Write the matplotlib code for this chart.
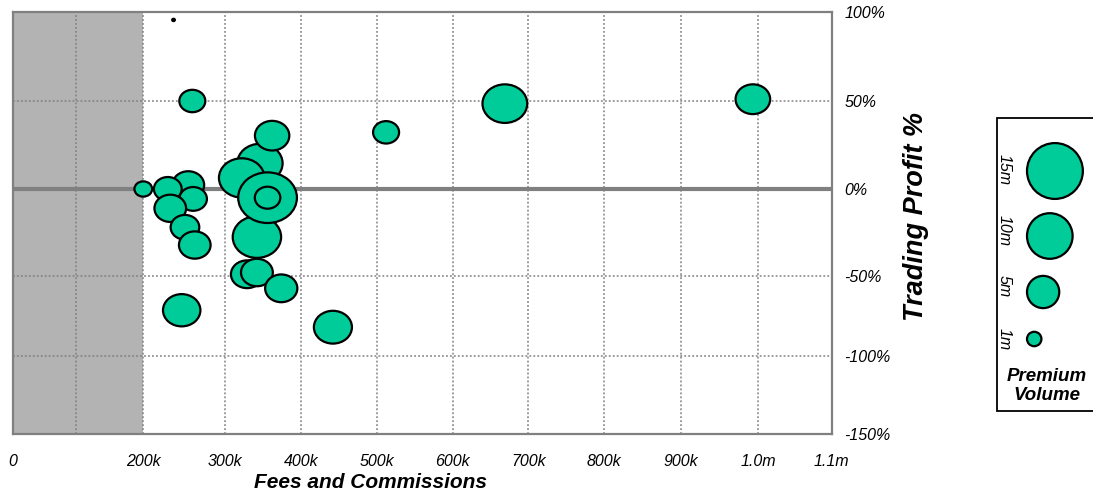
import numpy as np
import matplotlib
matplotlib.use("Agg")
import matplotlib.pyplot as plt
from matplotlib.path import Path
from matplotlib.patches import Rectangle, Circle
from matplotlib.scale import FuncScale

# ---- data -------------------------------------------------------------
# fees and commissions ($), trading profit (%), premium volume ($m)
fees = [237000, 260000, 669000, 993000, 512000,
        255000, 230000, 200000, 261000, 233000, 251000, 263000, 247000,
        346000, 362000, 322000, 342000, 356000, 356000,
        329000, 342000, 374000, 442000]
profit = [95.7, 50.0, 48.5, 51.0, 32.2,
          2.3, 0.0, 0.0, -5.7, -11.1, -22.0, -32.2, -71.4,
          14.6, 30.3, 6.3, -27.6, -5.0, -5.0,
          -49.0, -48.0, -57.7, -82.0]
volume = [0.03, 2.8, 8.3, 4.95, 2.8,
          4.2, 3.2, 1.3, 3.15, 4.15, 3.4, 4.15, 5.8,
          8.5, 4.9, 8.6, 9.7, 14.3, 2.7,
          4.3, 4.2, 4.3, 6.0]

x_ticks = [0, 100000, 200000, 300000, 400000, 500000, 600000,
           700000, 800000, 900000, 1000000, 1100000]
x_tick_labels = ["0", "", "200k", "300k", "400k", "500k", "600k",
                 "700k", "800k", "900k", "1.0m", "1.1m"]
y_ticks = [-150, -100, -50, 0, 50, 100]
y_tick_labels = ["-150%", "-100%", "-50%", "0%", "50%", "100%"]
shaded_limit = 200000

legend_volumes = [15, 10, 5, 1]
legend_labels = ["15m", "10m", "5m", "1m"]

# ---- styling ----------------------------------------------------------
W, H, DPI = 1093, 497, 100
FILL = "#00CC99"
GRID = "#808080"
SHADE = "#B3B3B3"
AREA_PER_M = 52.0      # bubble area (px^2 / pi) per $1m of premium
ASPECT = 1.16          # bubbles are drawn slightly wider than tall
EDGE_LW = 1.6

plt.rcParams["font.family"] = ["Liberation Sans", "DejaVu Sans"]

fig = plt.figure(figsize=(W / DPI, H / DPI), dpi=DPI)
fig.patch.set_facecolor("white")

# plot frame in pixels
L, R, T, B = 13.0, 831.7, 12.3, 434.3
ax = fig.add_axes([L / W, 1 - B / H, (R - L) / W, (B - T) / H])

# the gridlines of this chart are not evenly spaced; map each tick to its
# spot along the axis and interpolate between them
x_spots = [0, 62.7, 130.3, 212.0, 288.0, 364.0, 439.7, 515.3, 591.3,
           667.7, 745.3, 818.7]
y_spots = [0, 78.3, 158.3, 245.3, 333.3, 422.0]


def piecewise(knots, spots):
    k = np.asarray(knots, float)
    s = np.asarray(spots, float)
    return (lambda v: np.interp(v, k, s)), (lambda p: np.interp(p, s, k))


ax.set_xscale(FuncScale(ax.xaxis, piecewise(x_ticks, x_spots)))
ax.set_yscale(FuncScale(ax.yaxis, piecewise(y_ticks, y_spots)))
ax.set_xlim(x_ticks[0], x_ticks[-1])
ax.set_ylim(y_ticks[0], y_ticks[-1])

ax.axvspan(x_ticks[0], shaded_limit, color=SHADE, lw=0, zorder=0)

ax.set_xticks(x_ticks)
ax.set_xticklabels(x_tick_labels)
ax.set_yticks(y_ticks)
ax.set_yticklabels(y_tick_labels)
ax.minorticks_off()
ax.grid(True, color=GRID, lw=1.1, linestyle=(0, (1.2, 1.4)), zorder=0.5)
ax.set_axisbelow(True)
ax.axhline(0, color=GRID, lw=3.0, zorder=1)

for sp in ax.spines.values():
    sp.set_color(GRID)
    sp.set_linewidth(1.6)

ax.yaxis.tick_right()
ax.tick_params(axis="x", length=0, pad=14, labelsize=11.5)
ax.tick_params(axis="y", length=0, pad=9, labelsize=11.5)
for lab in ax.get_xticklabels() + ax.get_yticklabels():
    lab.set_fontstyle("italic")

ax.set_xlabel("Fees and Commissions", fontsize=15, fontweight="bold",
              fontstyle="italic")
ax.xaxis.label.set_va("center")
ax.xaxis.set_label_coords((371 - L) / (R - L), (B - 483) / (B - T))

ax.yaxis.set_label_position("right")
ax.set_ylabel("Trading Profit %", fontsize=19.5, fontweight="bold",
              fontstyle="italic", rotation=90)
ax.yaxis.label.set_va("center")
ax.yaxis.label.set_ha("center")
ax.yaxis.set_label_coords((916 - L) / (R - L), (B - 216) / (B - T))

# bubbles: ellipse marker whose area follows the premium volume
unit = Path.unit_circle()
ellipse = Path(unit.vertices * [ASPECT, 1.0], unit.codes)
vol = np.asarray(volume, float)
half_w_px = np.sqrt(AREA_PER_M * vol * ASPECT)
sizes = (2 * half_w_px * 72.0 / DPI) ** 2
ax.scatter(fees, profit, s=sizes, marker=ellipse, facecolor=FILL,
           edgecolor="black", linewidths=EDGE_LW, zorder=3, clip_on=False)

# ---- size legend (drawn in pixel space) -------------------------------
lg = fig.add_axes([0, 0, 1, 1], facecolor="none")
lg.set_xlim(0, W)
lg.set_ylim(H, 0)
lg.axis("off")

lg.add_patch(Rectangle((997, 118), 130, 293, facecolor="white",
                       edgecolor="black", lw=1.3))
circle_y = [171, 236, 292, 339]
label_y = [170, 231, 286, 339]
for v, lab, cy, ty in zip(legend_volumes, legend_labels, circle_y, label_y):
    r = np.sqrt(AREA_PER_M * v)
    lg.add_patch(Circle((1027 + r, cy), r, facecolor=FILL,
                        edgecolor="black", lw=EDGE_LW))
    lg.text(1004, ty, lab, rotation=-90, ha="center", va="center",
            fontsize=11.5, fontstyle="italic")
lg.text(1047, 386, "Premium\nVolume", ha="center", va="center",
        fontsize=13.5, fontweight="bold", fontstyle="italic",
        linespacing=1.15)

fig.savefig("out.png", dpi=DPI)
